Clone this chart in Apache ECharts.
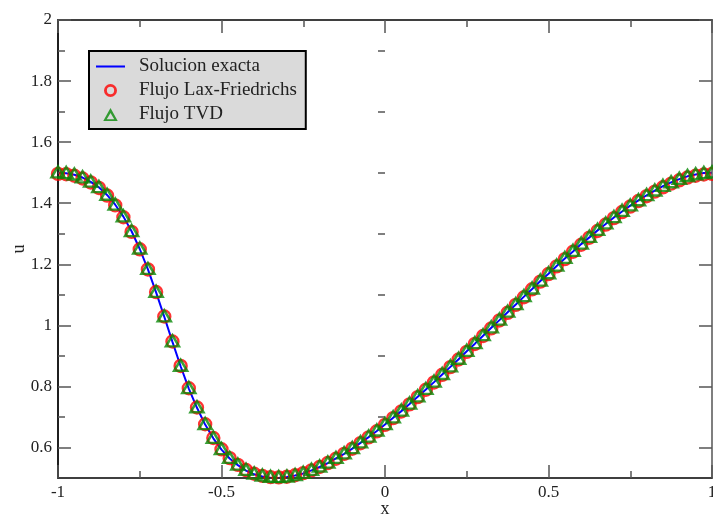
<!DOCTYPE html>
<html>
<head>
<meta charset="utf-8">
<script src="https://cdn.jsdelivr.net/npm/echarts@6/dist/echarts.min.js"></script>
<style>
  html, body { margin: 0; padding: 0; background: #fff; }
  #chart { width: 713px; height: 516px; }
</style>
</head>
<body>
<div id="chart"></div>
<script>
// Grid abscissae, step 0.025 on [-1, 1]
const xValues = [
  -1, -0.975, -0.95, -0.925, -0.9, -0.875, -0.85, -0.825, -0.8, -0.775,
  -0.75, -0.725, -0.7, -0.675, -0.65, -0.625, -0.6, -0.575, -0.55, -0.525,
  -0.5, -0.475, -0.45, -0.425, -0.4, -0.375, -0.35, -0.325, -0.3, -0.275,
  -0.25, -0.225, -0.2, -0.175, -0.15, -0.125, -0.1, -0.075, -0.05, -0.025,
  0, 0.025, 0.05, 0.075, 0.1, 0.125, 0.15, 0.175, 0.2, 0.225,
  0.25, 0.275, 0.3, 0.325, 0.35, 0.375, 0.4, 0.425, 0.45, 0.475,
  0.5, 0.525, 0.55, 0.575, 0.6, 0.625, 0.65, 0.675, 0.7, 0.725,
  0.75, 0.775, 0.8, 0.825, 0.85, 0.875, 0.9, 0.925, 0.95, 0.975, 1
];

// Exact solution u(x)
const exactValues = [
  1.500, 1.498, 1.493, 1.484, 1.470, 1.452, 1.427, 1.395, 1.356, 1.308,
  1.250, 1.183, 1.108, 1.028, 0.946, 0.866, 0.793, 0.730, 0.675, 0.630,
  0.593, 0.564, 0.542, 0.524, 0.512, 0.505, 0.501, 0.500, 0.503, 0.508,
  0.515, 0.525, 0.536, 0.549, 0.564, 0.579, 0.596, 0.615, 0.634, 0.654,
  0.675, 0.697, 0.719, 0.742, 0.766, 0.790, 0.814, 0.839, 0.864, 0.889,
  0.915, 0.940, 0.966, 0.992, 1.017, 1.043, 1.068, 1.094, 1.119, 1.145,
  1.169, 1.194, 1.219, 1.242, 1.266, 1.288, 1.311, 1.332, 1.353, 1.373,
  1.392, 1.409, 1.426, 1.441, 1.456, 1.468, 1.479, 1.488, 1.494, 1.499, 1.500
];

// Lax-Friedrichs flux result
const lfValues = [
  1.496, 1.495, 1.490, 1.481, 1.468, 1.450, 1.425, 1.393, 1.354, 1.306,
  1.249, 1.183, 1.109, 1.029, 0.947, 0.867, 0.794, 0.731, 0.676, 0.631,
  0.594, 0.565, 0.543, 0.526, 0.514, 0.507, 0.503, 0.502, 0.504, 0.509,
  0.516, 0.525, 0.536, 0.549, 0.563, 0.579, 0.596, 0.614, 0.633, 0.653,
  0.674, 0.696, 0.718, 0.741, 0.765, 0.789, 0.813, 0.838, 0.863, 0.888,
  0.913, 0.939, 0.965, 0.990, 1.016, 1.041, 1.067, 1.092, 1.118, 1.143,
  1.168, 1.193, 1.217, 1.241, 1.264, 1.287, 1.309, 1.330, 1.351, 1.371,
  1.389, 1.407, 1.423, 1.438, 1.452, 1.464, 1.475, 1.484, 1.490, 1.494, 1.496
];

// TVD flux result
const tvdValues = [
  1.499, 1.497, 1.492, 1.483, 1.469, 1.451, 1.426, 1.394, 1.355, 1.307,
  1.250, 1.183, 1.108, 1.028, 0.946, 0.866, 0.793, 0.730, 0.675, 0.630,
  0.593, 0.564, 0.542, 0.525, 0.513, 0.506, 0.502, 0.501, 0.503, 0.508,
  0.515, 0.525, 0.536, 0.549, 0.564, 0.579, 0.596, 0.615, 0.634, 0.654,
  0.675, 0.697, 0.719, 0.742, 0.766, 0.790, 0.814, 0.839, 0.864, 0.889,
  0.915, 0.940, 0.966, 0.992, 1.017, 1.043, 1.068, 1.094, 1.119, 1.145,
  1.169, 1.194, 1.219, 1.242, 1.266, 1.288, 1.311, 1.332, 1.353, 1.373,
  1.391, 1.408, 1.425, 1.440, 1.455, 1.467, 1.478, 1.487, 1.493, 1.497, 1.499
];

// Tick positions
const xMajorTicks = [-1, -0.5, 0, 0.5, 1];
const xMinorTicks = [-0.75, -0.25, 0.25, 0.75];
const yMajorTicks = [0.6, 0.8, 1, 1.2, 1.4, 1.6, 1.8, 2];
const yMinorTicks = [0.7, 0.9, 1.1, 1.3, 1.5, 1.7, 1.9];

const seriesNames = ['Solucion exacta', 'Flujo Lax-Friedrichs', 'Flujo TVD'];

const FONT = '"Liberation Serif", "DejaVu Serif", serif';
const TEXT = '#222';
const BLUE = '#0000ff', RED = '#ff0000', GREEN = '#078a07';

function pairs(xs, ys) { return xs.map((x, i) => [x, ys[i]]); }

function xAx(pos, ticks, len, opts) {
  return Object.assign({
    type: 'value', position: pos, min: -1, max: 1, z: 3,
    axisLine: { show: true, onZero: false, lineStyle: { color: '#333', width: 1.5 } },
    axisTick: { show: true, inside: true, length: len, customValues: ticks,
      lineStyle: { color: '#555', width: 1.5 } },
    axisLabel: { show: false },
    splitLine: { show: false }
  }, opts || {});
}
function yAx(pos, ticks, len, opts) {
  return Object.assign({
    type: 'value', position: pos, min: 0.5, max: 2, z: 3,
    axisLine: { show: true, onZero: false, lineStyle: { color: '#111', width: 1.5 } },
    axisTick: { show: true, inside: true, length: len, customValues: ticks,
      lineStyle: { color: '#555', width: 1.5 } },
    axisLabel: { show: false },
    splitLine: { show: false }
  }, opts || {});
}

const chart = echarts.init(document.getElementById('chart'), null, { renderer: 'canvas' });

chart.setOption({
  animation: false,
  backgroundColor: '#fff',
  grid: { left: 58, right: 1, top: 20, bottom: 38, containLabel: false, outerBoundsMode: 'none' },
  legend: {
    orient: 'vertical', left: 89, top: 51,
    backgroundColor: '#dadada', borderColor: '#000', borderWidth: 2,
    padding: [6, 9, 5, 7], itemGap: 5, itemWidth: 29, itemHeight: 13,
    textStyle: { fontFamily: FONT, fontSize: 19, color: TEXT, padding: [0, 0, 0, 9] },
    data: [
      { name: seriesNames[0], icon: 'path://M0,0H100V7H0Z', itemStyle: { color: BLUE, borderWidth: 0 } },
      { name: seriesNames[1], icon: 'path://M50,0A50,50,0,1,1,49.99,0ZM50,22A28,28,0,1,0,50.01,22Z',
        itemStyle: { color: RED, borderWidth: 0 } },
      { name: seriesNames[2], icon: 'path://M50,0L100,90L0,90ZM50,34L24,78L76,78Z',
        itemStyle: { color: GREEN, borderWidth: 0 } }
    ]
  },
  xAxis: [
    xAx('bottom', xMajorTicks, 13, {
      name: 'x', nameLocation: 'middle', nameGap: 22, nameMoveOverlap: false,
      nameTextStyle: { fontFamily: FONT, fontSize: 18, color: TEXT },
      axisLabel: { show: true, customValues: xMajorTicks, margin: 6,
        fontFamily: FONT, fontSize: 17, color: TEXT }
    }),
    xAx('bottom', xMinorTicks, 7),
    xAx('top', xMajorTicks, 13),
    xAx('top', xMinorTicks, 7)
  ],
  yAxis: [
    yAx('left', yMajorTicks, 13, {
      name: 'u', nameLocation: 'middle', nameGap: 30, nameRotate: 90, nameMoveOverlap: false,
      nameTextStyle: { fontFamily: FONT, fontSize: 18, color: TEXT },
      axisLabel: { show: true, customValues: yMajorTicks, margin: 6,
        fontFamily: FONT, fontSize: 17, color: TEXT }
    }),
    yAx('left', yMinorTicks, 7),
    yAx('right', yMajorTicks, 13, { axisLine: { show: true, onZero: false, lineStyle: { color: '#555', width: 1.5 } } }),
    yAx('right', yMinorTicks, 7, { axisLine: { show: false } })
  ],
  series: [
    {
      name: seriesNames[0], type: 'line', xAxisIndex: 0, yAxisIndex: 0,
      data: pairs(xValues, exactValues), symbol: 'none',
      lineStyle: { color: BLUE, width: 2 }, itemStyle: { color: BLUE },
      z: 2
    },
    {
      name: seriesNames[1], type: 'scatter', xAxisIndex: 0, yAxisIndex: 0,
      data: pairs(xValues, lfValues), symbol: 'circle', symbolSize: 12, clip: false,
      itemStyle: { color: 'rgba(0,0,0,0)', borderColor: RED, borderWidth: 2.4 },
      z: 3
    },
    {
      name: seriesNames[2], type: 'scatter', xAxisIndex: 0, yAxisIndex: 0,
      data: pairs(xValues, tvdValues), symbol: 'triangle', symbolSize: [13, 11],
      symbolOffset: [0, -1], clip: false,
      itemStyle: { color: 'rgba(0,0,0,0)', borderColor: GREEN, borderWidth: 2.5 },
      z: 4
    }
  ]
});
</script>
</body>
</html>
